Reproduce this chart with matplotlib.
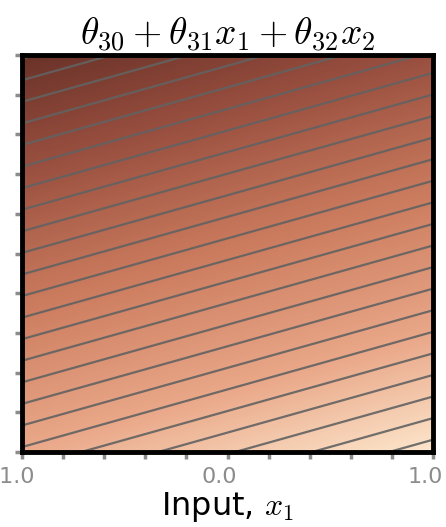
import numpy as np
import matplotlib
matplotlib.use("Agg")
import matplotlib.pyplot as plt
from matplotlib.colors import LinearSegmentedColormap
import matplotlib.transforms as mtransforms

# Parameters of the linear function shown
theta_30 = 0.07
theta_31 = 0.267
theta_32 = -0.92
contour_step = 0.1

x_tick_positions = [-1.0, -0.8, -0.6, -0.4, -0.2, 0.0, 0.2, 0.4, 0.6, 0.8, 1.0]
x_tick_labels = ["-1.0", "", "", "", "", "0.0", "", "", "", "", "1.0"]
y_tick_positions = [-1.0, -0.8, -0.6, -0.4, -0.2, 0.0, 0.2, 0.4, 0.6, 0.8, 1.0]

cmap_colors = ["#6a3228", "#9a5040", "#cd7d5f", "#eaa98a", "#fde6cc"]
cmap_stops = [0.0, 0.225, 0.5, 0.775, 1.0]

plt.rcParams['mathtext.fontset'] = 'cm'

cmap = LinearSegmentedColormap.from_list("udl", list(zip(cmap_stops, cmap_colors)))

x1 = np.linspace(-1, 1, 400)
x2 = np.linspace(-1, 1, 400)
X1, X2 = np.meshgrid(x1, x2)
Y = theta_30 + theta_31 * X1 + theta_32 * X2

fig = plt.figure(figsize=(4.46, 5.27), dpi=100)
ax = fig.add_axes([22/446, 1-452/527, (433-22)/446, (452-55)/527])
ax.imshow(Y, extent=[-1, 1, -1, 1], origin='lower', cmap=cmap,
          vmin=Y.min(), vmax=Y.max(), aspect='auto', interpolation='bilinear')
levels = np.arange(-3, 3, contour_step)
ax.contour(X1, X2, Y, levels=levels, colors='#626262', linewidths=1.6,
           linestyles='solid', alpha=0.9)
ax.set_xlim(-1, 1)
ax.set_ylim(-1, 1)

ax.set_xticks(x_tick_positions)
ax.set_xticklabels(x_tick_labels, fontsize=16, color='#8c8c8c')
ax.set_yticks(y_tick_positions)
ax.set_yticklabels([])
ax.tick_params(axis='both', direction='out', length=5, width=2.5, color='#8c8c8c', pad=6)

offset = mtransforms.ScaledTranslation(-8/100, 0, fig.dpi_scale_trans)
for lab in ax.get_xticklabels():
    lab.set_transform(lab.get_transform() + offset)

for s in ax.spines.values():
    s.set_linewidth(3.5)
    s.set_color('black')

ax.set_title(r"$\theta_{30}+\theta_{31}x_1+\theta_{32}x_2$", fontsize=27, pad=7)
ax.set_xlabel(r"Input, $x_1$", fontsize=23, labelpad=2)

fig.savefig("out.png", dpi=100)
